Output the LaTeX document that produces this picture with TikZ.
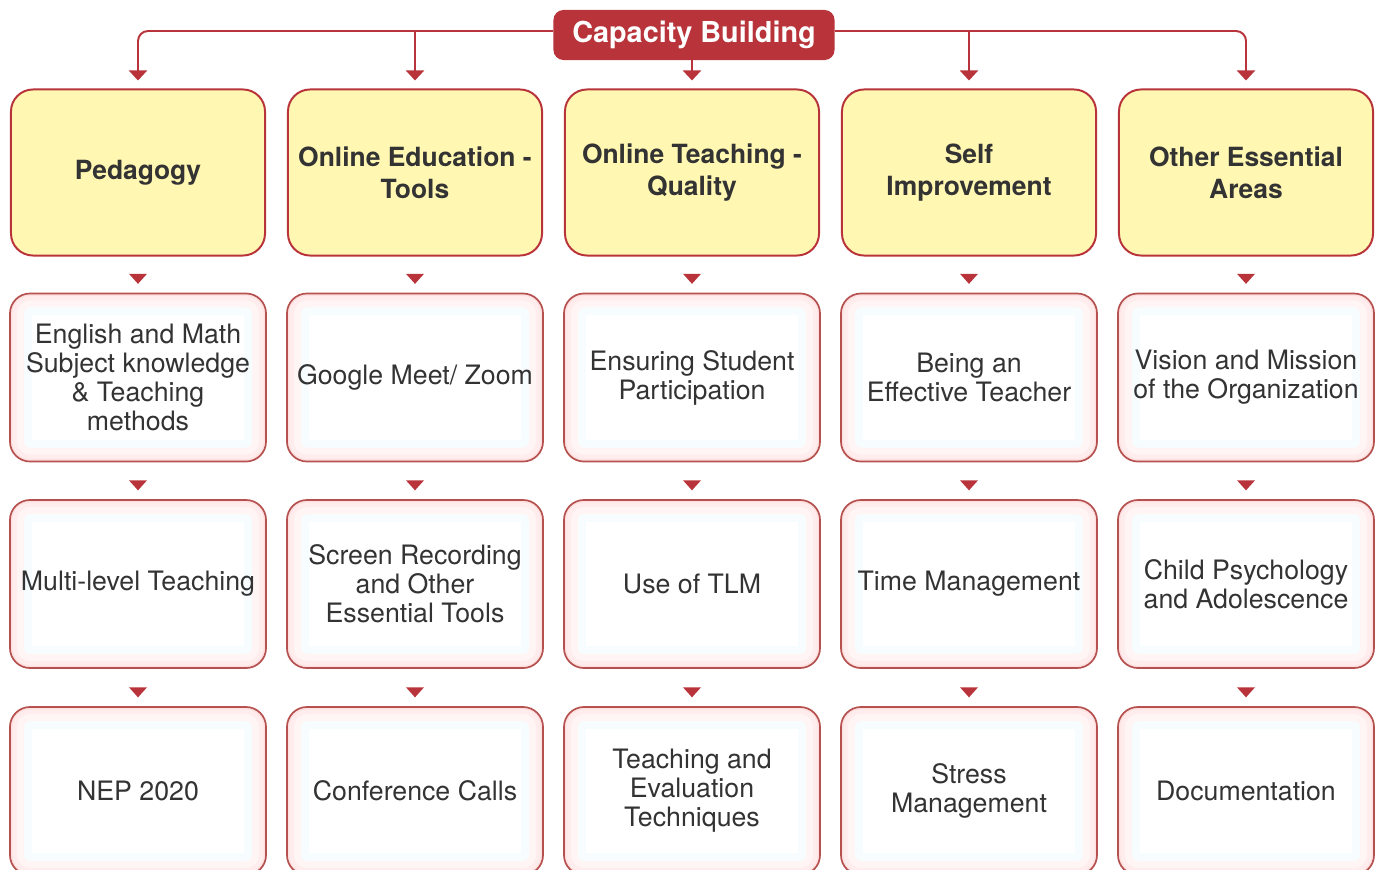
\documentclass[tikz,border=0pt]{standalone}
\usepackage{fontspec}
\setmainfont{TeX Gyre Heros}
\usetikzlibrary{arrows.meta}

\definecolor{capred}{HTML}{B8343A}
\definecolor{headyellow}{HTML}{FFF7B2}
\definecolor{boxline}{HTML}{B5514F}
\definecolor{txtgray}{HTML}{333333}

\begin{document}
\begin{tikzpicture}[x=0.025cm, y=-0.025cm,
  head/.style={rectangle, rounded corners=0.55cm, draw=capred, line width=1.4pt, fill=headyellow,
    minimum width=6.35cm, minimum height=4.15cm, align=center, text=txtgray,
    font=\bfseries\fontsize{18.8}{22.8}\selectfont},
  glow/.style={rounded corners=0.5cm},
  item/.style={rectangle, rounded corners=0.5cm, draw=boxline, line width=1.2pt, fill=white,
    minimum width=6.4cm, minimum height=4.2cm, align=center, text=txtgray,
    font=\fontsize{19}{20.6}\selectfont,
    path picture={
      \draw[glow, cyan!3, line width=1.1cm] (path picture bounding box.south west) rectangle (path picture bounding box.north east);
      \draw[glow, red!4, line width=0.7cm] (path picture bounding box.south west) rectangle (path picture bounding box.north east);
      \draw[glow, red!7, line width=0.35cm] (path picture bounding box.south west) rectangle (path picture bounding box.north east);
      \draw[glow, red!12, line width=0.12cm] (path picture bounding box.south west) rectangle (path picture bounding box.north east);}},
  link/.style={draw=capred, line width=1.4pt, rounded corners=0.25cm,
    -{Triangle[length=0.25cm, width=0.45cm]}, shorten >=0.2cm}]

\useasboundingbox (0,0) rectangle (1382,869);

%% TITULO
\node[rectangle, rounded corners=0.25cm, fill=capred, text=white, minimum width=7.025cm, minimum height=1.25cm,
  font=\bfseries\fontsize{20.5}{24}\selectfont] at (694,35) (Cap) {Capacity Building};
\coordinate (bar) at ([yshift=0.1cm]Cap.west);

% Cabeceras
\node[head] at (138,172.5) (Ped) {Pedagogy};
\node[head] at (415,172.5) (Tools) {Online Education -\\Tools};
\node[head] at (692,172.5) (Qual) {Online Teaching -\\Quality};
\node[head] at (969,172.5) (Self) {Self\\Improvement};
\node[head] at (1246,172.5) (Other) {Other Essential\\Areas};

% Conexiones
\draw[link] (bar) -| (Ped.north);
\draw[link] ([yshift=0.1cm]Cap.east) -| (Other.north);
\draw[link] (Tools.north |- bar) -- (Tools.north);
\draw[link] (Self.north |- bar) -- (Self.north);
\draw[link] (Cap.south -| Qual.north) -- (Qual.north);

%% PEDAGOGY
\node[item] at (138,377.5) (Ped1) {English and Math\\Subject knowledge\\\& Teaching\\methods};
\node[item] at (138,584) (Ped2) {Multi-level Teaching};
\node[item] at (138,791) (Ped3) {NEP 2020};

%% ONLINE EDUCATION
\node[item] at (415,377.5) (Tools1) {Google Meet/ Zoom};
\node[item] at (415,584) (Tools2) {Screen Recording\\and Other\\Essential Tools};
\node[item] at (415,791) (Tools3) {Conference Calls};

%% ONLINE TEACHING
\node[item] at (692,377.5) (Qual1) {Ensuring Student\\Participation};
\node[item] at (692,584) (Qual2) {Use of TLM};
\node[item] at (692,791) (Qual3) {Teaching and\\Evaluation\\Techniques};

%% SELF IMPROVEMENT
\node[item] at (969,377.5) (Self1) {Being an\\Effective Teacher};
\node[item] at (969,584) (Self2) {Time Management};
\node[item] at (969,791) (Self3) {Stress\\Management};

%% OTHER AREAS
\node[item] at (1246,377.5) (Other1) {Vision and Mission\\of the Organization};
\node[item] at (1246,584) (Other2) {Child Psychology\\and Adolescence};
\node[item] at (1246,791) (Other3) {Documentation};

% Flechas entre filas
\foreach \b in {Ped1,Ped2,Ped3,Tools1,Tools2,Tools3,Qual1,Qual2,Qual3,Self1,Self2,Self3,Other1,Other2,Other3}
  \fill[capred] ([shift={(-0.225cm,0.47cm)}]\b.north) -- ([shift={(0.225cm,0.47cm)}]\b.north)
    -- ([yshift=0.22cm]\b.north) -- cycle;

\end{tikzpicture}
\end{document}
